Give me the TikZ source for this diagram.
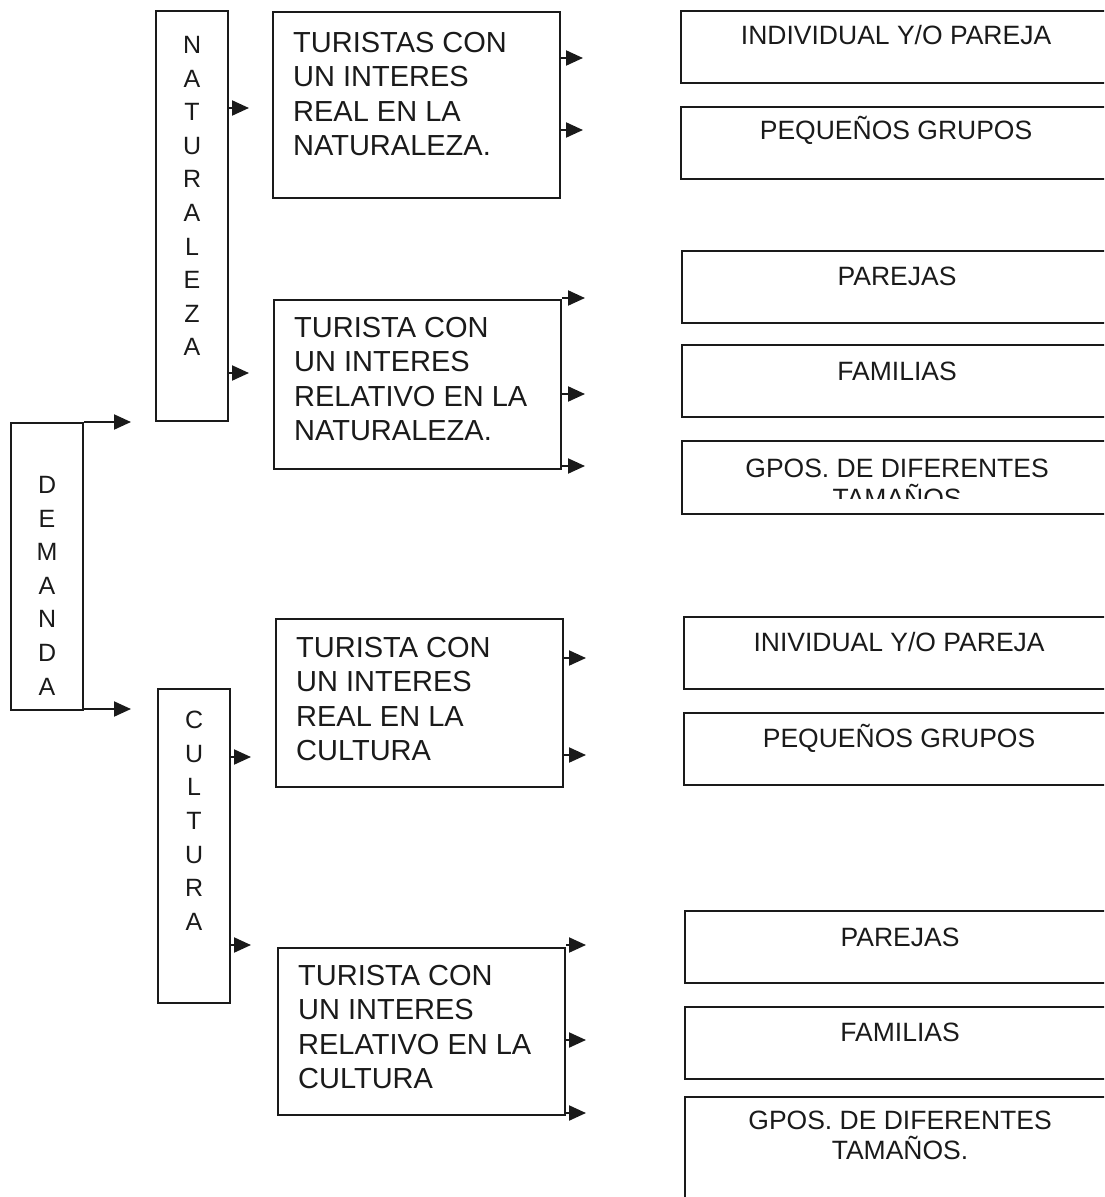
\documentclass[tikz,border=0pt]{standalone}
\usepackage{fontspec}
\setmainfont{Liberation Sans}
\usetikzlibrary{arrows.meta}
\definecolor{ink}{HTML}{1A1A1A}
\tikzset{
  box/.style={draw=ink, line width=2.1pt, anchor=north west, inner sep=0pt},
  vbox/.style={box, minimum width=72},
  bigbox/.style={box, minimum width=287},
  smallbox/.style={box, minimum width=430, minimum height=72},
  vtext/.style={anchor=north, inner sep=0pt, align=center, text=ink, font=\fontsize{25}{33.6}\selectfont},
  btext/.style={anchor=north west, inner sep=0pt, align=left, text=ink, font=\fontsize{29}{34.5}\selectfont},
  rtext/.style={anchor=base, inner sep=0pt, align=center, text=ink, font=\fontsize{26.5}{30}\selectfont},
  arr/.style={draw=ink, line width=2.1pt, -{Triangle[length=17pt,width=15pt]}}
}
\begin{document}
\begin{tikzpicture}[x=1pt,y=-1pt]
\clip (0,0) rectangle (1104,1197);
% first and second level
\node[vbox, minimum height=287] (dem) at (10,422) {};
\node[vtext] (demtxt) at ([yshift=-54pt]dem.north) {D\\E\\M\\A\\N\\D\\A};
\node[vbox, minimum height=410] (nat) at (155,10) {};
\node[vtext] (nattxt) at ([yshift=-26pt]nat.north) {N\\A\\T\\U\\R\\A\\L\\E\\Z\\A};
\node[vbox, minimum height=314] (cul) at (157,688) {};
\node[vtext] (cultxt) at ([yshift=-23pt]cul.north) {C\\U\\L\\T\\U\\R\\A};
% tourists
\node[bigbox, minimum height=186] (natreal) at (272,11) {};
\node[btext] (natrealtxt) at ([xshift=21pt,yshift=-21pt]natreal.north west) {TURISTAS CON\\UN INTERES\\REAL EN LA\\NATURALEZA.};
\node[bigbox, minimum height=169] (natrel) at (273,299) {};
\node[btext] (natreltxt) at ([xshift=21pt,yshift=-18pt]natrel.north west) {TURISTA CON\\UN INTERES\\RELATIVO EN LA\\NATURALEZA.};
\node[bigbox, minimum height=168] (culreal) at (275,618) {};
\node[btext] (culrealtxt) at ([xshift=21pt,yshift=-19pt]culreal.north west) {TURISTA CON\\UN INTERES\\REAL EN LA\\CULTURA};
\node[bigbox, minimum height=167] (culrel) at (277,947) {};
\node[btext] (culreltxt) at ([xshift=21pt,yshift=-18pt]culrel.north west) {TURISTA CON\\UN INTERES\\RELATIVO EN LA\\CULTURA};
% groups
\node[smallbox] (ind1) at (680,10) {};
\node[rtext] (ind1txt) at ([yshift=-34pt]ind1.north) {INDIVIDUAL Y/O PAREJA};
\node[smallbox] (peq1) at (680,106) {};
\node[rtext] (peq1txt) at ([yshift=-33pt]peq1.north) {PEQUEÑOS GRUPOS};
\node[smallbox] (par1) at (681,250) {};
\node[rtext] (par1txt) at ([yshift=-35pt]par1.north) {PAREJAS};
\node[smallbox] (fam1) at (681,344) {};
\node[rtext] (fam1txt) at ([yshift=-36pt]fam1.north) {FAMILIAS};
\node[smallbox, minimum height=73] (gpos1) at (681,440) {};
\begin{scope}
\clip (gpos1.north west) rectangle ([yshift=17pt]gpos1.south east);
\node[rtext, anchor=north] (gpos1txt) at ([yshift=-19pt]gpos1.north) {GPOS. DE DIFERENTES\\TAMAÑOS};
\end{scope}
\node[smallbox] (ind2) at (683,616) {};
\node[rtext] (ind2txt) at ([yshift=-35pt]ind2.north) {INIVIDUAL Y/O PAREJA};
\node[smallbox] (peq2) at (683,712) {};
\node[rtext] (peq2txt) at ([yshift=-35pt]peq2.north) {PEQUEÑOS GRUPOS};
\node[smallbox] (par2) at (684,910) {};
\node[rtext] (par2txt) at ([yshift=-36pt]par2.north) {PAREJAS};
\node[smallbox] (fam2) at (684,1006) {};
\node[rtext] (fam2txt) at ([yshift=-35pt]fam2.north) {FAMILIAS};
\node[smallbox, minimum height=120] (gpos2) at (684,1096) {};
\node[rtext, anchor=north] (gpos2txt) at ([yshift=-15pt]gpos2.north) {GPOS. DE DIFERENTES\\TAMAÑOS.};
% arrow tips
\coordinate (d1) at (131,422);
\coordinate (d2) at (131,709);
\coordinate (n1) at (249,108);
\coordinate (n2) at (249,373);
\coordinate (c1) at (251,757);
\coordinate (c2) at (251,945);
\coordinate (a1) at (583,58);
\coordinate (a2) at (583,130);
\coordinate (a3) at (585,298);
\coordinate (a4) at (585,394);
\coordinate (a5) at (585,466);
\coordinate (a6) at (586,658);
\coordinate (a7) at (586,755);
\coordinate (a8) at (586,945);
\coordinate (a9) at (586,1040);
\coordinate (a10) at (586,1113);
\foreach \s/\t in {dem/d1,dem/d2,nat/n1,nat/n2,cul/c1,cul/c2,natreal/a1,natreal/a2,natrel/a3,natrel/a4,natrel/a5,culreal/a6,culreal/a7,culrel/a8,culrel/a9,culrel/a10}
  \draw[arr] (\s.east |- \t) -- (\t);
\end{tikzpicture}
\end{document}
